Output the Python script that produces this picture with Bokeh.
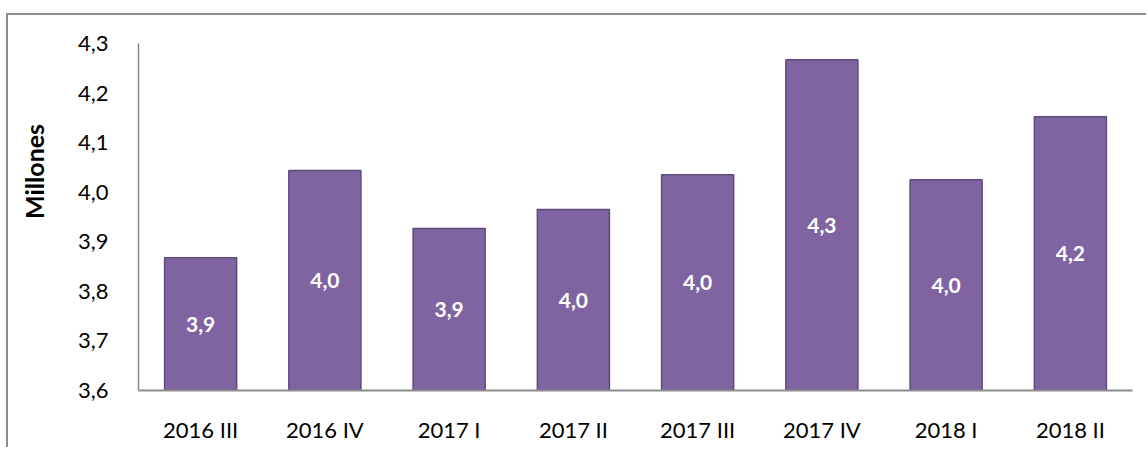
from bokeh.plotting import figure
from bokeh.models import ColumnDataSource, FixedTicker, CustomJSTickFormatter
from bokeh.core.properties import value
from bokeh.embed import file_html
from bokeh.resources import INLINE

categories = ["2016 III", "2016 IV", "2017 I", "2017 II", "2017 III", "2017 IV", "2018 I", "2018 II"]
values = [3.868, 4.044, 3.927, 3.965, 4.035, 4.267, 4.025, 4.152]
y_ticks = [3.6, 3.7, 3.8, 3.9, 4.0, 4.1, 4.2, 4.3]
y_min, y_max = 3.6, 4.3
y_title = "Millones"

labels = [f"{v:.1f}".replace(".", ",") for v in values]
mids = [(y_min + v) / 2 for v in values]
src = ColumnDataSource(dict(cat=categories, val=values, lab=labels, mid=mids))

FONT = "Lato"

p = figure(x_range=categories, y_range=(y_min, y_max), width=1140, height=434,
           output_backend="svg", toolbar_location=None,
           min_border_left=130, min_border_right=16, min_border_top=28, min_border_bottom=59,
           styles={"margin-left": "6px", "margin-top": "13px",
                   "border-left": "2px solid #8C8C8C", "border-top": "2px solid #8C8C8C"})

p.vbar(x="cat", top="val", bottom=y_min, width=0.58, source=src,
       fill_color="#8064A2", line_color="#5E4A7C", line_width=1.5)
p.text(x="cat", y="mid", text="lab", source=src, text_align="center", text_baseline="middle",
       text_color="white", text_font=value(FONT), text_font_style="bold", text_font_size="21px")

p.grid.visible = False
p.outline_line_color = None
p.background_fill_color = "white"

p.yaxis.ticker = FixedTicker(ticks=y_ticks)
p.yaxis.formatter = CustomJSTickFormatter(code="return tick.toFixed(1).replace('.', ',');")
p.yaxis.major_tick_line_color = None
p.yaxis.minor_tick_line_color = None
p.yaxis.axis_line_color = "#8C8C8C"
p.yaxis.axis_line_width = 1.5
p.yaxis.major_label_standoff = 24
p.yaxis.major_label_text_font = FONT
p.yaxis.major_label_text_font_size = "22px"
p.yaxis.major_label_text_color = "#000000"
# leading no-break spaces lift the (frame-centred) title to where the reference puts it
p.yaxis.axis_label = "\u00a0" * 15 + y_title
p.yaxis.axis_label_text_font = FONT
p.yaxis.axis_label_text_font_size = "25px"
p.yaxis.axis_label_text_font_style = "bold"
p.yaxis.axis_label_standoff = 26
p.yaxis.axis_label_text_color = "#000000"

p.xaxis.major_tick_line_color = None
p.xaxis.minor_tick_line_color = None
p.xaxis.axis_line_color = "#8C8C8C"
p.xaxis.axis_line_width = 2
p.xaxis.major_label_standoff = 19
p.xaxis.major_label_text_font = FONT
p.xaxis.major_label_text_font_size = "22px"
p.xaxis.major_label_text_color = "#000000"
p.x_range.range_padding = 0

open("out.html", "w").write(file_html(p, INLINE))
